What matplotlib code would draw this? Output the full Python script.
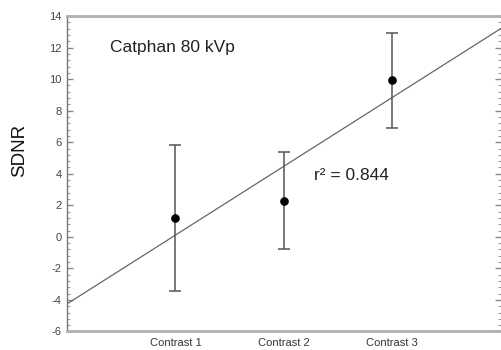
import numpy as np
import matplotlib
matplotlib.use("Agg")
import matplotlib.pyplot as plt
from matplotlib.ticker import MultipleLocator, FuncFormatter

categories = ["Contrast 1", "Contrast 2", "Contrast 3"]
sdnr = [1.2, 2.3, 9.93]
sdnr_err = [4.65, 3.05, 3.0]
r2_label = "r\u00b2 = 0.844"
title_label = "Catphan 80 kVp"

plt.rcParams["font.family"] = ["Liberation Sans", "DejaVu Sans"]

fig = plt.figure(figsize=(5.02, 3.5), dpi=100)
ax = fig.add_axes([0.1335, 0.053, 0.864, 0.901])

x = np.arange(1, len(categories) + 1)
ax.errorbar(x, sdnr, yerr=sdnr_err, fmt="o", color="black", ms=5.2,
            ecolor="#555555", elinewidth=1.1, capsize=4.5, capthick=1.1, zorder=3)

# least-squares fit across the full axis width
slope, intercept = np.polyfit(x, sdnr, 1)
xf = np.array([0.0, 4.0])
ax.plot(xf, slope * xf + intercept, color="#666666", lw=0.9, zorder=2)

ax.set_xlim(0, 4)
ax.set_ylim(-6, 14)
ax.set_xticks(x)
ax.set_xticklabels(categories)
ax.yaxis.set_major_locator(MultipleLocator(2))
ax.yaxis.set_minor_locator(MultipleLocator(0.4))
ax.yaxis.set_major_formatter(FuncFormatter(lambda v, p: f"{v:.0f}"))

ax.tick_params(axis="x", length=0, pad=5, labelsize=8, labelcolor="#333333")
ax.tick_params(axis="y", which="major", direction="in", length=4, width=1,
               color="#888888", labelsize=8, labelcolor="#444444", right=True, pad=4)
ax.tick_params(axis="y", which="minor", direction="in", length=2, width=0.8,
               color="#999999", right=True)

for side in ("top", "bottom"):
    ax.spines[side].set_color("#b0b0b0")
    ax.spines[side].set_linewidth(2)
ax.spines["left"].set_color("#777777")
ax.spines["left"].set_linewidth(1)
ax.spines["right"].set_visible(False)

fig.text(20 / 502, 1 - 150 / 350, "SDNR", fontsize=13.5, rotation=90,
         ha="center", va="center", color="#111111")

ax.text(0.4, 12.0, title_label, fontsize=12.5, color="#222222", va="center")
ax.text(2.28, 3.9, r2_label, fontsize=12.5, color="#222222", va="center")

fig.savefig("out.png", dpi=100)
